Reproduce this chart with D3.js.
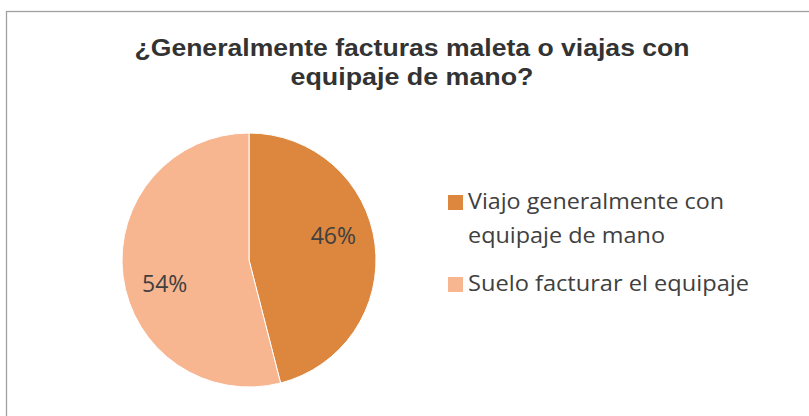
<!DOCTYPE html>
<html>
<head>
<meta charset="utf-8">
<script src="https://cdn.jsdelivr.net/npm/d3@7"></script>
<style>
  body { margin: 0; background: #fff; }
  svg { display: block; }
</style>
</head>
<body>
<div id="chart"></div>
<script>
var categories = ['Viajo generalmente con equipaje de mano', 'Suelo facturar el equipaje'];
var legendLines = [['Viajo generalmente con', 'equipaje de mano'], ['Suelo facturar el equipaje']];
var legendWidths = [[256, 197], [281]];
var values = [46, 54];
var colours = ['#DC863E', '#F8B690'];
var titleLines = ['¿Generalmente facturas maleta o viajas con', 'equipaje de mano?'];
var titleWidths = [555, 243];

var width = 809, height = 416;

var svg = d3.select('#chart')
  .append('svg')
  .attr('width', width)
  .attr('height', height);

// chart frame (runs off the right and bottom edge)
svg.append('rect')
  .attr('x', 6.5)
  .attr('y', 11.5)
  .attr('width', width + 10)
  .attr('height', height + 10)
  .attr('fill', 'none')
  .attr('stroke', '#a0a0a0')
  .attr('stroke-width', 1.3);

// title
svg.append('text')
  .attr('text-anchor', 'middle')
  .attr('font-family', 'Liberation Sans, Arial, sans-serif')
  .attr('font-weight', 'bold')
  .attr('font-size', 23.5)
  .attr('fill', '#333')
  .selectAll('tspan')
  .data(titleLines)
  .enter()
  .append('tspan')
  .attr('x', 412)
  .attr('y', function (d, i) { return 56 + i * 29; })
  .attr('textLength', function (d, i) { return titleWidths[i]; })
  .attr('lengthAdjust', 'spacingAndGlyphs')
  .text(function (d) { return d; });

var data = categories.map(function (c, i) { return {name: c, value: values[i]}; });

var pie = d3.pie().sort(null).value(function (d) { return d.value; });
var radius = 127;
var arc = d3.arc().innerRadius(0).outerRadius(radius);
// Excel's best-fit labels sit a little counter-clockwise of the slice middle
var labelShift = -0.15;
var labelArc = d3.arc().innerRadius(radius * 0.69).outerRadius(radius * 0.69)
  .startAngle(function (d) { return d.startAngle + labelShift; })
  .endAngle(function (d) { return d.endAngle + labelShift; });

var colour = d3.scaleOrdinal().domain(categories).range(colours);

var g = svg.append('g')
  .attr('transform', 'translate(' + 249 + ',' + 260 + ')');

var slices = g.selectAll('.slice')
  .data(pie(data))
  .enter()
  .append('g')
  .attr('class', 'slice');

slices.append('path')
  .attr('d', arc)
  .attr('fill', function (d) { return colour(d.data.name); })
  .attr('stroke', '#fff')
  .attr('stroke-width', 1);

var fmt = d3.format('.0%');
var total = d3.sum(values);

slices.append('text')
  .attr('transform', function (d) { return 'translate(' + labelArc.centroid(d) + ')'; })
  .attr('dy', '0.36em')
  .attr('text-anchor', 'middle')
  .attr('font-family', 'Open Sans, sans-serif')
  .attr('font-size', 23)
  .attr('fill', '#404040')
  .text(function (d) { return fmt(d.data.value / total); });

// legend
var legendY = [195, 277];
var legend = svg.selectAll('.legend')
  .data(data)
  .enter()
  .append('g')
  .attr('class', 'legend')
  .attr('transform', function (d, i) { return 'translate(448,' + legendY[i] + ')'; });

legend.append('rect')
  .attr('width', 15)
  .attr('height', 15)
  .attr('fill', function (d) { return colour(d.name); });

legend.append('text')
  .attr('font-family', 'Open Sans, sans-serif')
  .attr('font-size', 22.5)
  .attr('fill', '#404040')
  .selectAll('tspan')
  .data(function (d, i) {
    return legendLines[i].map(function (t, j) { return {t: t, w: legendWidths[i][j]}; });
  })
  .enter()
  .append('tspan')
  .attr('x', 20)
  .attr('y', function (d, i) { return 14 + i * 34; })
  .attr('textLength', function (d) { return d.w; })
  .attr('lengthAdjust', 'spacingAndGlyphs')
  .text(function (d) { return d.t; });
</script>
</body>
</html>
